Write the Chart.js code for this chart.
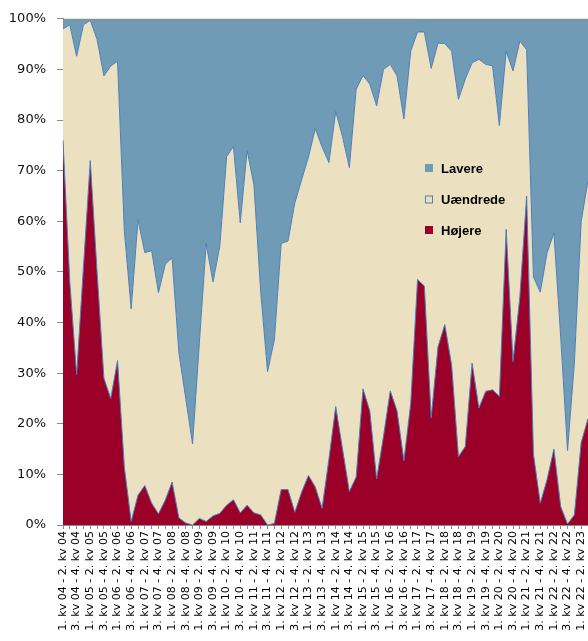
<!DOCTYPE html>
<html>
<head>
<meta charset="utf-8">
<script src="https://cdn.jsdelivr.net/npm/chart.js@4.4.0/dist/chart.umd.min.js"></script>
<style>
  html, body { margin: 0; padding: 0; background: #fff; }
  #wrap { width: 588px; height: 641px; }
</style>
</head>
<body>
<div id="wrap"><canvas id="myChart"></canvas></div>
<script>
// kun hver anden kategori har en tekst på aksen
var kvartaler = [
  "1. kv 04 - 2. kv 04", "3. kv 04 - 4. kv 04",
  "1. kv 05 - 2. kv 05", "3. kv 05 - 4. kv 05",
  "1. kv 06 - 2. kv 06", "3. kv 06 - 4. kv 06",
  "1. kv 07 - 2. kv 07", "3. kv 07 - 4. kv 07",
  "1. kv 08 - 2. kv 08", "3. kv 08 - 4. kv 08",
  "1. kv 09 - 2. kv 09", "3. kv 09 - 4. kv 09",
  "1. kv 10 - 2. kv 10", "3. kv 10 - 4. kv 10",
  "1. kv 11 - 2. kv 11", "3. kv 11 - 4. kv 11",
  "1. kv 12 - 2. kv 12", "3. kv 12 - 4. kv 12",
  "1. kv 13 - 2. kv 13", "3. kv 13 - 4. kv 13",
  "1. kv 14 - 2. kv 14", "3. kv 14 - 4. kv 14",
  "1. kv 15 - 2. kv 15", "3. kv 15 - 4. kv 15",
  "1. kv 16 - 2. kv 16", "3. kv 16 - 4. kv 16",
  "1. kv 17 - 2. kv 17", "3. kv 17 - 4. kv 17",
  "1. kv 18 - 2. kv 18", "3. kv 18 - 4. kv 18",
  "1. kv 19 - 2. kv 19", "3. kv 19 - 4. kv 19",
  "1. kv 20 - 2. kv 20", "3. kv 20 - 4. kv 20",
  "1. kv 21 - 2. kv 21", "3. kv 21 - 4. kv 21",
  "1. kv 22 - 2. kv 22", "3. kv 22 - 4. kv 22",
  "1. kv 22 - 2. kv 23"
];

var hojere = [
  76, 48, 29.7, 51, 72, 50, 29, 25, 32.5, 11.4,
  0.7, 5.9, 7.8, 4.3, 2.2, 4.9, 8.5, 1.4, 0.4, 0,
  1.3, 0.7, 1.8, 2.3, 3.9, 5.0, 2.4, 3.9, 2.4, 2.0,
  0, 0.3, 7.0, 7.0, 2.5, 6.5, 9.8, 7.5, 3.3, 13,
  23.4, 15, 6.6, 9.5, 26.9, 22.5, 9.1, 17.5, 26.5, 22.5,
  12.7, 24, 48.5, 47.2, 21.2, 35.2, 39.6, 31.6, 13.5, 15.5,
  32, 23.1, 26.4, 26.7, 25.4, 58.4, 32.3, 45, 65, 14,
  4.3, 9, 15, 3.6, 0.2, 2, 16.3, 21
];

var uaendrede = [
  22.0, 50.8, 62.9, 47.8, 27.7, 45.9, 59.7, 65.7, 59.1, 46.6,
  42.0, 54.4, 46.0, 49.9, 43.7, 46.6, 44.3, 32.6, 24.6, 16.0,
  34.7, 54.9, 46.2, 52.8, 68.9, 69.8, 57.3, 70.1, 64.8, 44.0,
  30.3, 36.3, 48.6, 49.1, 61.1, 61.7, 62.9, 70.8, 71.4, 58.6,
  58.3, 61.7, 64.0, 76.6, 61.9, 64.6, 73.7, 72.5, 64.5, 66.2,
  67.5, 69.6, 48.9, 50.2, 69.0, 60.0, 55.5, 62.0, 70.6, 72.6,
  59.3, 68.9, 64.6, 64.0, 53.5, 35.2, 57.4, 50.6, 28.9, 35.0,
  41.7, 44.8, 42.7, 33.4, 14.5, 30.0, 43.7, 47.0
];

var lavere = [
  2.0, 1.2, 7.4, 1.2, 0.3, 4.1, 11.3, 9.3, 8.4, 42.0,
  57.3, 39.7, 46.2, 45.8, 54.1, 48.5, 47.2, 66.0, 75.0, 84.0,
  64.0, 44.4, 52.0, 44.9, 27.2, 25.2, 40.3, 26.0, 32.8, 54.0,
  69.7, 63.4, 44.4, 43.9, 36.4, 31.8, 27.3, 21.7, 25.3, 28.4,
  18.3, 23.3, 29.4, 13.9, 11.2, 12.9, 17.2, 10.0, 9.0, 11.3,
  19.8, 6.4, 2.6, 2.6, 9.8, 4.8, 4.9, 6.4, 15.9, 11.9,
  8.7, 8.0, 9.0, 9.3, 21.1, 6.4, 10.3, 4.4, 6.1, 51.0,
  54.0, 46.2, 42.3, 63.0, 85.3, 68.0, 40.0, 32.0
];

var yTicks = [0, 10, 20, 30, 40, 50, 60, 70, 80, 90, 100];

var rod = '#9B0028';
var beige = '#EBE1C1';
var blaa = '#6F9BB6';
var kant = '#4A7EBB';

var labels = [];
for (var i = 0; i < hojere.length; i++) {
  labels.push(i % 2 == 0 ? kvartaler[i / 2] : '');
}

// legende inde i plottet + ramme foroven
var indreLegende = {
  id: 'indreLegende',
  afterDraw: function (chart) {
    var ctx = chart.ctx;
    var a = chart.chartArea;
    ctx.save();
    ctx.strokeStyle = '#8C8C8C';
    ctx.lineWidth = 1;
    ctx.beginPath();
    ctx.moveTo(a.left, a.top + 0.5);
    ctx.lineTo(a.right, a.top + 0.5);
    ctx.stroke();

    var poster = [
      { txt: 'Lavere', fill: blaa, kant: null, y: 168 },
      { txt: 'Uændrede', fill: beige, kant: kant, y: 199.5 },
      { txt: 'Højere', fill: rod, kant: null, y: 230 }
    ];
    ctx.font = 'bold 13px "Liberation Sans", Arial, sans-serif';
    ctx.textBaseline = 'middle';
    ctx.textAlign = 'left';
    poster.forEach(function (p) {
      ctx.fillStyle = p.fill;
      ctx.fillRect(425, p.y - 4, 8, 8);
      if (p.kant) {
        ctx.strokeStyle = p.kant;
        ctx.strokeRect(425.5, p.y - 3.5, 7, 7);
      }
      ctx.fillStyle = '#000';
      ctx.fillText(p.txt, 441, p.y + 1);
    });
    ctx.restore();
  }
};

const ctx = document.getElementById('myChart').getContext('2d');
const myChart = new Chart(ctx, {
  type: 'line',
  data: {
    labels: labels,
    datasets: [{
      label: 'Højere',
      data: hojere,
      backgroundColor: rod,
      borderColor: kant,
      borderWidth: 1,
      fill: 'origin'
    }, {
      label: 'Uændrede',
      data: uaendrede,
      backgroundColor: beige,
      borderColor: kant,
      borderWidth: 1,
      fill: '-1'
    }, {
      label: 'Lavere',
      data: lavere,
      backgroundColor: blaa,
      borderColor: blaa,
      borderWidth: 0,
      fill: '-1'
    }]
  },
  options: {
    responsive: true,
    maintainAspectRatio: false,
    animation: false,
    layout: { padding: { top: 14, right: 0, left: 0, bottom: 0 } },
    elements: { point: { radius: 0 }, line: { tension: 0 } },
    plugins: {
      legend: { display: false },
      tooltip: { enabled: false }
    },
    scales: {
      x: {
        offset: false,
        grid: { drawOnChartArea: false, tickLength: 4, color: '#8C8C8C' },
        border: { color: '#8C8C8C' },
        ticks: {
          autoSkip: false,
          maxRotation: 90,
          minRotation: 90,
          padding: 2,
          color: '#000',
          font: { family: 'DejaVu Sans', size: 11 }
        },
        afterFit: function (s) {
          s.height = 116;
          s.paddingLeft = 0;
          s.paddingRight = 0;
        }
      },
      y: {
        stacked: true,
        min: 0,
        max: 100,
        afterBuildTicks: function (s) {
          s.ticks = yTicks.map(function (v) { return { value: v }; });
        },
        grid: { drawOnChartArea: false, tickLength: 6, color: '#8C8C8C' },
        border: { color: '#8C8C8C' },
        ticks: {
          padding: 11,
          color: '#111',
          font: { family: 'DejaVu Sans', size: 13 },
          callback: function (v) { return v + '%'; }
        },
        afterFit: function (s) { s.width = 63; }
      }
    }
  },
  plugins: [indreLegende]
});
</script>
</body>
</html>
